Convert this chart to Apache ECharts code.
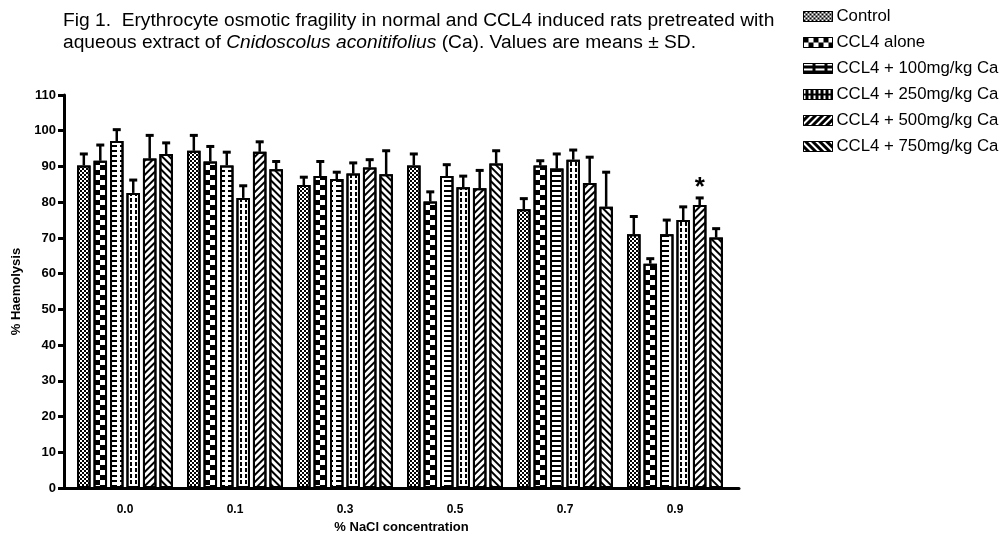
<!DOCTYPE html>
<html>
<head>
<meta charset="utf-8">
<script src="https://cdn.jsdelivr.net/npm/echarts@6/dist/echarts.min.js"></script>
<style>html,body{margin:0;padding:0;background:#fff;}#c{width:1002px;height:539px;}</style>
</head>
<body>
<div id="c"></div>
<script>
var categories = ['0.0', '0.1', '0.3', '0.5', '0.7', '0.9'];
var seriesNames = ['Control', 'CCL4 alone', 'CCL4 + 100mg/kg Ca', 'CCL4 + 250mg/kg Ca', 'CCL4 + 500mg/kg Ca', 'CCL4 + 750mg/kg Ca'];
var controlMean = [90.3, 94.4, 84.8, 90.3, 78.0, 71.0];
var controlSD   = [3.2, 4.3, 2.2, 3.2, 3.0, 5.0];
var ccl4Mean    = [91.6, 91.4, 87.3, 80.2, 90.3, 62.8];
var ccl4SD      = [4.4, 4.2, 4.1, 2.7, 1.3, 1.4];
var ca100Mean   = [97.1, 90.3, 86.5, 87.3, 89.4, 71.0];
var ca100SD     = [3.2, 3.7, 1.9, 3.2, 4.1, 4.0];
var ca250Mean   = [82.6, 81.2, 88.0, 84.2, 91.9, 75.0];
var ca250SD     = [3.6, 3.4, 3.0, 3.1, 2.7, 3.7];
var ca500Mean   = [92.2, 94.1, 89.7, 83.9, 85.4, 79.2];
var ca500SD     = [6.5, 2.8, 2.2, 5.0, 7.2, 2.0];
var ca750Mean   = [93.5, 89.2, 87.8, 90.8, 78.7, 70.1];
var ca750SD     = [3.1, 2.2, 6.6, 3.6, 9.7, 2.5];
var yTicks = [0, 10, 20, 30, 40, 50, 60, 70, 80, 90, 100, 110];
var significant = [[5, 4]]; // [category index, series index] marked with *

var means = [controlMean, ccl4Mean, ca100Mean, ca250Mean, ca500Mean, ca750Mean];
var sds = [controlSD, ccl4SD, ca100SD, ca250SD, ca500SD, ca750SD];
var catIndex = categories.map(function (c, i) { return i; });

var decals = [
  {symbol: 'rect', symbolSize: 1, dashArrayX: [[2, 2], [0, 2, 2, 0]], dashArrayY: [2, 0]},
  {symbol: 'rect', symbolSize: 1, dashArrayX: [[5, 5], [0, 5, 5, 0]], dashArrayY: [5, 0]},
  {symbol: 'rect', symbolSize: 1, dashArrayX: [9, 3], dashArrayY: [2, 3]},
  {symbol: 'rect', symbolSize: 1, dashArrayX: [2, 3], dashArrayY: [4, 2]},
  {symbol: 'rect', symbolSize: 1, dashArrayX: [1, 0], dashArrayY: [2, 3], rotation: -Math.PI / 4},
  {symbol: 'rect', symbolSize: 1, dashArrayX: [1, 0], dashArrayY: [2, 3], rotation: Math.PI / 4}
];
function withColor(d, col) { var o = {}; for (var k in d) o[k] = d[k]; o.color = col; return o; }

var BAR_W = 13.5, BAR_GAP = 0.22;
var FONT = 'Liberation Sans, Arial, sans-serif';

var series = seriesNames.map(function (name, s) {
  return {
    name: name,
    type: 'bar',
    data: means[s].map(function (v, i) { return [catIndex[i], v]; }),
    barWidth: BAR_W,
    barGap: (BAR_GAP * 100) + '%',
    itemStyle: {color: '#fff', borderColor: '#000', borderWidth: 2, decal: withColor(decals[s], '#000')},
    emphasis: {disabled: true},
    z: 2
  };
});

var errData = [];
for (var s = 0; s < means.length; s++) {
  for (var c = 0; c < categories.length; c++) {
    var star = 0;
    significant.forEach(function (p) { if (p[0] === c && p[1] === s) star = 1; });
    errData.push([c, s, means[s][c], means[s][c] + sds[s][c], star]);
  }
}

series.push({
  type: 'custom',
  silent: true,
  z: 5,
  data: errData,
  encode: {x: 0, y: 2},
  renderItem: function (params, api) {
    var c = api.value(0), s = api.value(1), m = api.value(2), up = api.value(3), star = api.value(4);
    var step = BAR_W * (1 + BAR_GAP);
    var off = (s - 2.5) * step;
    var p0 = api.coord([c, m]);
    var p1 = api.coord([c, up]);
    var x = p0[0] + off;
    var children = [
      {type: 'line', shape: {x1: x, y1: p0[1], x2: x, y2: p1[1]}, style: {stroke: '#000', lineWidth: 2.5}},
      {type: 'line', shape: {x1: x - 4, y1: p1[1], x2: x + 4, y2: p1[1]}, style: {stroke: '#000', lineWidth: 3}}
    ];
    if (star) {
      children.push({type: 'text', x: x, y: p1[1] - 10, style: {text: '*', fontSize: 26, fontWeight: 'bold', fontFamily: FONT, fill: '#000', align: 'center', verticalAlign: 'middle'}});
    }
    return {type: 'group', children: children};
  }
});

var chart = echarts.init(document.getElementById('c'), null, {renderer: 'canvas'});
chart.setOption({
  animation: false,
  backgroundColor: '#fff',
  title: {
    left: 58, top: 5,
    text: 'Fig 1.  Erythrocyte osmotic fragility in normal and CCL4 induced rats pretreated with\naqueous extract of {i|Cnidoscolus aconitifolius} (Ca). Values are means \u00b1 SD.',
    textStyle: {
      fontFamily: FONT, fontSize: 19.2, fontWeight: 'normal', color: '#000', lineHeight: 22,
      rich: {i: {fontStyle: 'italic', fontFamily: FONT, fontSize: 19.2, color: '#000', lineHeight: 22}}
    }
  },
  legend: {
    orient: 'vertical', left: 803, top: 8, padding: 0,
    itemWidth: 29, itemHeight: 10, itemGap: 9,
    icon: 'rect',
    data: seriesNames.map(function (n, s) {
      return {name: n, itemStyle: {color: '#000', borderColor: '#000', borderWidth: 1, decal: withColor(decals[s], '#fff')}};
    }),
    textStyle: {fontFamily: FONT, fontSize: 16.8, color: '#000', padding: [0, 0, 0, -1]},
    selectedMode: false
  },
  grid: {left: 64, width: 675, top: 95, height: 403, containLabel: false},
  xAxis: {
    type: 'value', min: -0.5545, max: 5.582,
    axisLine: {show: true, onZero: false, lineStyle: {color: '#000', width: 3}},
    axisTick: {show: false},
    splitLine: {show: false},
    axisLabel: {
      customValues: catIndex,
      formatter: function (v) { return categories[v] !== undefined ? categories[v] : ''; },
      fontFamily: FONT, fontSize: 12, fontWeight: 'bold', color: '#000', margin: 16
    },
    name: '% NaCl concentration', nameLocation: 'middle', nameGap: 32,
    nameTextStyle: {fontFamily: FONT, fontSize: 13, fontWeight: 'bold', color: '#000'}
  },
  yAxis: {
    type: 'value', min: yTicks[0], max: yTicks[yTicks.length - 1], interval: 10,
    axisLine: {show: true, onZero: false, lineStyle: {color: '#000', width: 3}},
    axisTick: {show: true, length: 6, lineStyle: {color: '#000', width: 3}},
    splitLine: {show: false},
    axisLabel: {fontFamily: FONT, fontSize: 13, fontWeight: 'bold', color: '#000', margin: 8},
    name: '% Haemolysis', nameLocation: 'middle', nameGap: 40,
    nameTextStyle: {fontFamily: FONT, fontSize: 13, fontWeight: 'bold', color: '#000'}
  },
  series: series
});
</script>
</body>
</html>
